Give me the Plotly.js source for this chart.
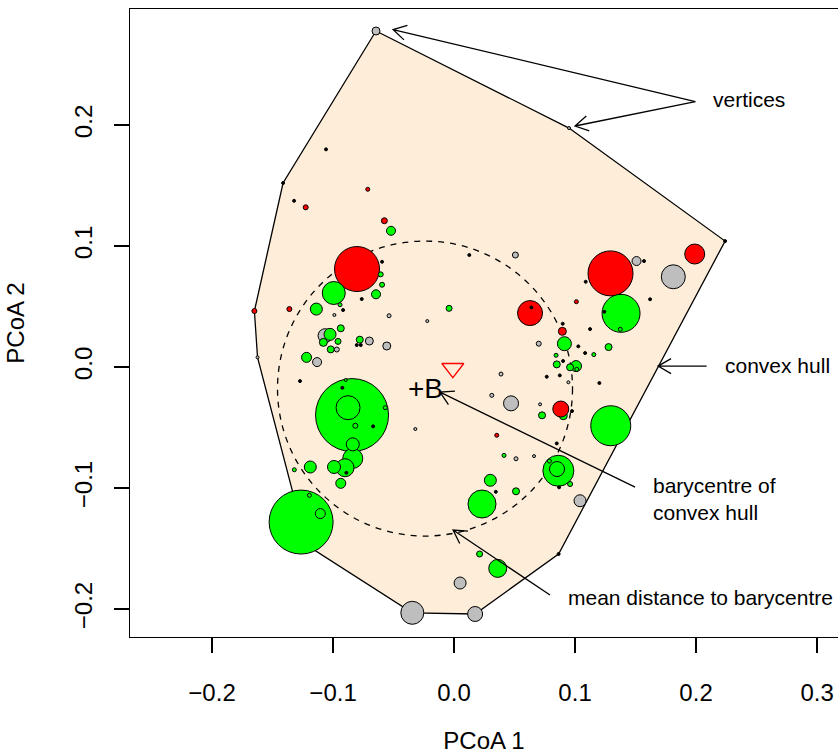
<!DOCTYPE html>
<html><head><meta charset="utf-8">
<script src="https://cdn.plot.ly/plotly-3.0.1.min.js"></script>
<style>html,body{margin:0;padding:0;background:#fff;overflow:hidden}</style>
</head><body><div id="chart" style="width:838px;height:756px"></div>
<script>
// species coordinates in the functional space (PCoA 1, PCoA 2)
const ptX = [-0.1219,-0.0843,-0.1264,-0.0802,0.1293,0.1295,0.1380,0.0862,0.0231,0.0628,0.1812,-0.0876,-0.0994,-0.0345,-0.0837,0.1989,-0.0901,0.0361,0.0903,0.0882,0.0471,0.0851,0.0174,0.0912,-0.1066,-0.0992,-0.0837,-0.1138,-0.1025,-0.1188,0.0300,0.1041,0.0050,0.1008,-0.0936,-0.1105,-0.1219,-0.1132,-0.0521,-0.0645,0.1508,-0.0700,-0.0556,0.0895,-0.1080,-0.0936,-0.1019,-0.0779,0.1277,0.0849,0.0959,0.0727,0.0512,-0.0959,-0.0576,-0.0041,0.0507,0.0211,-0.0969,-0.1226,-0.1650,-0.1361,0.0700,-0.0816,0.0959,-0.0606,-0.0595,-0.0942,-0.0537,-0.0713,0.1011,0.0353,0.1374,0.0843,0.1155,0.1014,-0.0568,-0.1196,-0.1320,0.0413,0.0788,0.0388,0.0312,0.0512,0.0661,-0.0895,-0.0645,-0.0989,-0.0221,-0.0320,0.0945,0.0711,-0.1624,0.0950,-0.1322,-0.1058,-0.0595,-0.0763,-0.0917,-0.0804,-0.0771,-0.1273,-0.0923,-0.0669,-0.0890,0.0126,0.1088,0.1570,0.1620,0.1242,0.0639,0.0898,0.1124,0.1027,0.1083,0.0901,0.0766,0.0874,0.1201,0.0975,0.0849,0.0345,0.0868,-0.1413,0.2240,0.0864];
const ptY = [-0.1471,-0.0397,-0.1281,0.0810,0.0774,-0.0485,0.0444,-0.0857,-0.1132,0.0446,0.0746,-0.0336,0.0612,-0.2031,-0.0755,0.0934,-0.0832,-0.1664,-0.0402,-0.0347,-0.0300,-0.0843,-0.2041,0.0193,0.0259,-0.0826,-0.0639,0.0479,0.0270,-0.0826,-0.0936,-0.1105,-0.1785,0.0008,-0.0961,-0.1211,0.0080,0.0041,0.1126,0.0601,0.0876,0.0215,0.0174,0.0295,0.0204,0.0320,0.0146,0.0226,0.0165,0.0022,-0.0002,-0.0399,-0.1027,0.0212,0.1209,0.0485,0.0926,-0.1545,0.0145,0.1320,0.0463,0.0479,0.0193,-0.0485,-0.0967,0.0766,0.0680,0.0515,0.0424,0.1469,0.0540,-0.0564,0.0312,0.0097,0.0103,-0.0019,-0.0336,-0.1060,-0.0849,-0.0730,-0.0777,-0.0058,-0.0234,-0.0758,-0.0736,-0.0107,0.2777,0.0430,0.0380,-0.0512,-0.0126,-0.0308,0.0080,0.1975,0.1374,0.1799,0.0870,0.0562,0.0471,0.0182,0.0182,-0.0116,-0.0171,-0.0490,-0.0874,0.0926,0.0705,0.0876,0.0560,0.0457,0.0493,0.0358,0.0314,0.0171,0.0116,0.0050,-0.0080,-0.0069,-0.0132,-0.0364,-0.0631,-0.1031,-0.0994,0.1521,0.1041,-0.1545];
// relative weights (abundance) of the species
const ptWeight = [0.3,7.3,6.4,4.5,4.5,4.0,3.8,3.1,2.8,2.5,2.4,2.4,2.3,2.3,2.0,2.0,1.8,1.8,0.8,1.6,1.5,1.5,1.5,1.4,1.4,1.3,1.3,1.2,1.2,1.2,1.2,1.2,1.2,1.1,1.0,1.0,1.0,0.9,0.9,0.9,0.9,0.8,0.8,0.8,0.8,0.7,0.7,0.7,0.7,0.7,0.7,0.7,0.7,0.6,0.6,0.6,0.6,0.6,0.5,0.5,0.5,0.5,0.5,0.5,0.5,0.5,0.5,0.4,0.4,0.4,0.4,0.4,0.4,0.4,0.4,0.4,0.4,0.4,0.4,0.4,0.4,0.4,0.4,0.4,0.3,0.3,0.8,0.3,0.3,0.3,0.3,0.3,0.3,0.3,0.3,0.3,0.3,0.3,0.3,0.3,0.3,0.3,0.3,0.3,0.3,0.3,0.3,0.3,0.3,0.3,0.3,0.3,0.3,0.3,0.3,0.3,0.3,0.3,0.3,0.3,0.3,0.3,0.3,0.3,0.3,0.3];
const ptGroup = ["black","green","green","red","red","green","green","green","green","red","grey","green","green","grey","green","red","green","green","green","red","grey","green","grey","green","grey","green","green","green","green","green","green","grey","grey","green","green","green","green","grey","green","green","grey","grey","grey","red","green","green","green","green","green","green","green","green","green","green","red","green","grey","green","grey","red","red","red","grey","green","green","green","green","green","grey","red","red","red","green","green","green","green","green","green","green","green","green","grey","grey","grey","grey","green","grey","grey","grey","grey","grey","grey","grey","grey","black","black","black","black","black","black","black","black","black","black","black","black","black","black","black","black","black","black","black","black","black","black","black","black","black","black","black","black","black","black","black","black"];
// convex hull vertices
const hullX = [-0.0645,0.0950,0.2240,0.0864,0.0174,-0.0345,-0.1219,-0.1624,-0.1650,-0.1413];
const hullY = [0.2777,0.1975,0.1041,-0.1545,-0.2041,-0.2031,-0.1471,0.0080,0.0463,0.1521];
// barycentre of the hull and mean distance to it
const baryX = -0.0240, baryY = -0.0178, meanDist = 0.1219;
// reference point (triangle)
const refX = [-0.0010], refY = [-0.0010];
const xTickVals = [-0.2,-0.1,0,0.1,0.2,0.3];
const xTickText = ["\u22120.2","\u22120.1","0.0","0.1","0.2","0.3"];
const yTickVals = [-0.2,-0.1,0,0.1,0.2];
const yTickText = ["\u22120.2","\u22120.1","0.0","0.1","0.2"];
// annotation labels: [text, x, y]
const labels = [
  ["vertices", 0.2124, 0.2207],
  ["convex hull", 0.2219, 0.0012],
  ["barycentre of<br>convex hull", 0.1624, -0.1087],
  ["mean distance to barycentre", 0.0926, -0.1901]
];
// arrows: [tailX, tailY, tipX, tipY]
const arrows = [
  [0.1994, 0.2194, -0.0504, 0.2789],
  [0.1994, 0.2194, 0.1000, 0.1992],
  [0.2087, 0.0008, 0.1686, 0.0008],
  [0.1496, -0.0992, -0.0116, -0.0207],
  [0.0793, -0.1884, -0.0008, -0.1347]
];

const groupColor = {red:"#FF0000", green:"#00FF00", grey:"#BEBEBE", black:"#000000"};
const FONT = "Liberation Sans, Arial, Helvetica, sans-serif";

let hullPath = "M" + hullX.map((x,i)=>x+","+hullY[i]).join(" L") + " Z";

const headLen = 15/1210, headAng = Math.PI/6;
const shapes = [
  {type:"path", path:hullPath, layer:"below", fillcolor:"#FEEED9", line:{color:"#000", width:1.3}},
  {type:"circle", layer:"below", x0:baryX-meanDist, x1:baryX+meanDist, y0:baryY-meanDist, y1:baryY+meanDist,
   line:{color:"#000", width:1.3, dash:"6px,6px"}, fillcolor:"rgba(0,0,0,0)"}
];
arrows.forEach(a=>{
  const [tx,ty,hx,hy]=a;
  const ang = Math.atan2(ty-hy, tx-hx);
  const p1 = [hx+headLen*Math.cos(ang+headAng), hy+headLen*Math.sin(ang+headAng)];
  const p2 = [hx+headLen*Math.cos(ang-headAng), hy+headLen*Math.sin(ang-headAng)];
  shapes.push({type:"path", layer:"above", line:{color:"#000", width:1.3},
    path:`M${tx},${ty} L${hx},${hy} M${p1[0]},${p1[1]} L${hx},${hy} L${p2[0]},${p2[1]}`});
});

const annotations = labels.map(l=>({text:l[0], x:l[1], y:l[2], xref:"x", yref:"y", showarrow:false,
  xanchor:"left", yanchor:"middle", align:"left", font:{family:FONT, size:21, color:"#000"}}));
annotations.push({text:"+B", x:baryX, y:baryY, xref:"x", yref:"y", showarrow:false,
  xanchor:"center", yanchor:"middle", font:{family:FONT, size:28, color:"#000"}});

const traces = [
  {type:"scatter", mode:"markers", x:ptX, y:ptY, hoverinfo:"skip",
   marker:{size:ptWeight.map(w=>w*10), color:ptGroup.map(g=>groupColor[g]), line:{color:"#000", width:1}, opacity:1}},
  {type:"scatter", mode:"markers", x:refX, y:refY, hoverinfo:"skip",
   marker:{symbol:"triangle-down-open", size:19, color:"#FF0000", line:{color:"#FF0000", width:1.3}}}
];

const layout = {
  width:838, height:756, showlegend:false,
  margin:{l:130, r:0, t:9, b:119},
  paper_bgcolor:"#fff", plot_bgcolor:"#fff",
  font:{family:FONT, size:24, color:"#000"},
  xaxis:{range:[-0.2678,0.3173], tickvals:xTickVals, ticktext:xTickText, ticks:"outside", ticklen:15,
    tickwidth:1.3, tickcolor:"#000", showline:true, linecolor:"#000", linewidth:1.3, mirror:true,
    showgrid:false, zeroline:false, tickfont:{family:FONT, size:24}, ticklabelstandoff:19,
    title:{text:"PCoA 1", font:{family:FONT, size:24}, standoff:27}},
  yaxis:{range:[-0.2231,0.2959], tickvals:yTickVals, ticktext:yTickText, ticks:"outside", ticklen:15,
    tickwidth:1.3, tickcolor:"#000", showline:true, linecolor:"#000", linewidth:1.3, mirror:false,
    showgrid:false, zeroline:false, tickangle:-90, tickfont:{family:FONT, size:24}, ticklabelstandoff:12,
    title:{text:"PCoA 2", font:{family:FONT, size:24}, standoff:38}},
  shapes:shapes, annotations:annotations
};
Plotly.newPlot("chart", traces, layout, {displayModeBar:false, staticPlot:true});
</script></body></html>
